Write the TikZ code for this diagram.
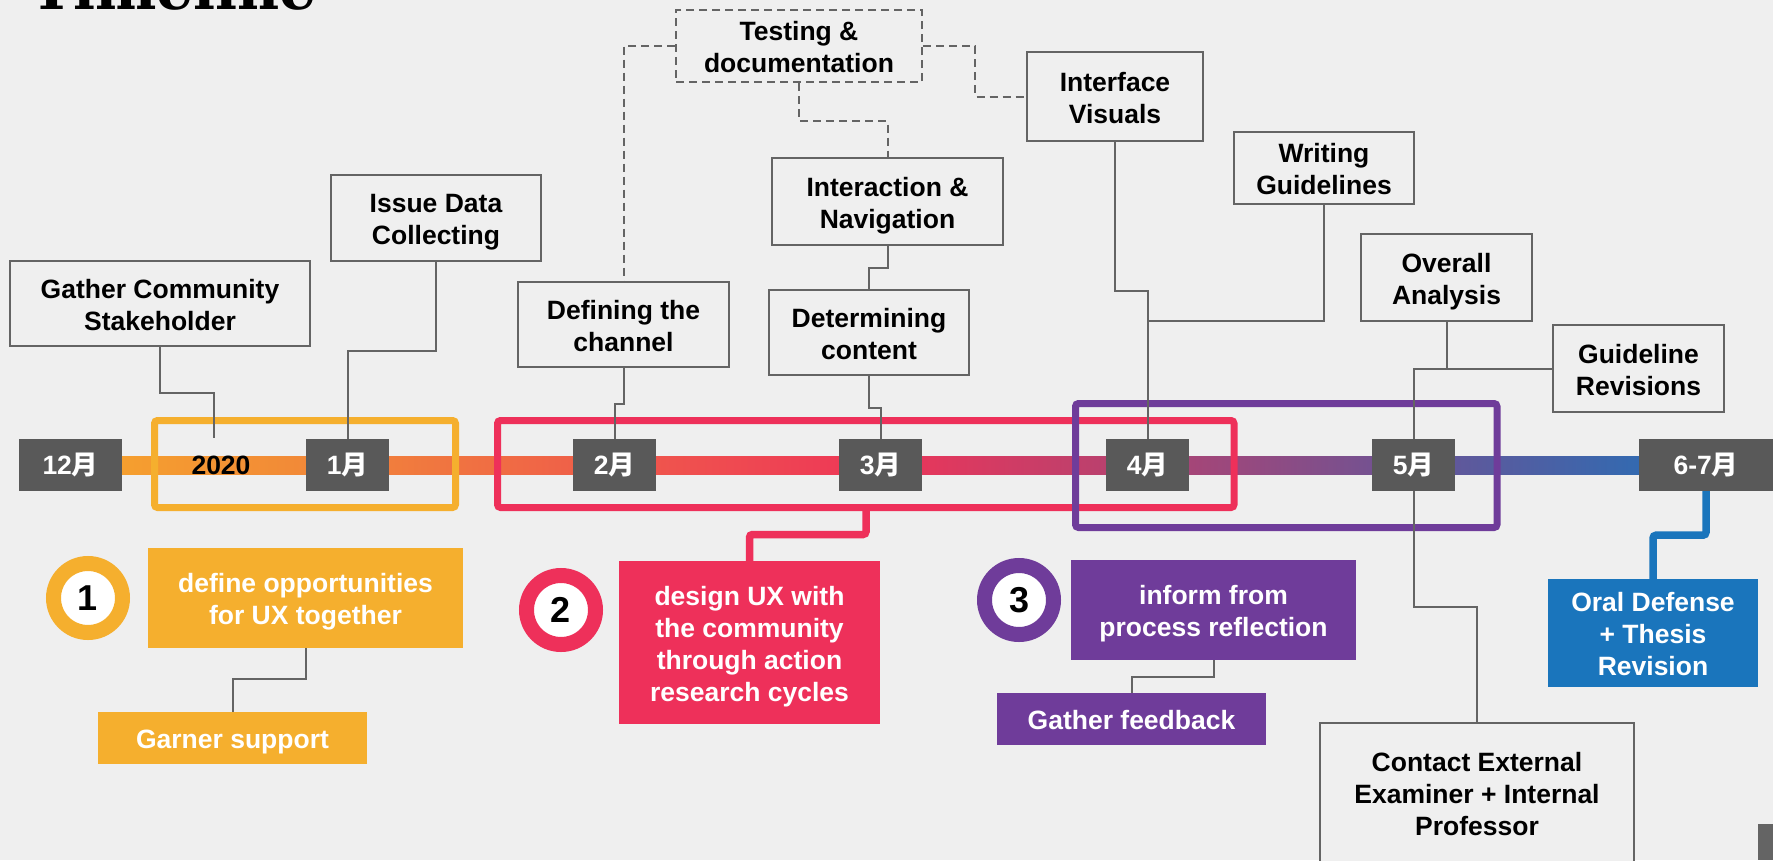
\documentclass[tikz,border=0pt]{standalone}
\usepackage{fontspec}
\setmainfont{Liberation Sans}
\newfontfamily\cjkfont{Noto Sans CJK SC}
\newfontfamily\titlefont{DejaVu Serif}
\definecolor{bgc}{HTML}{EFEFEF}
\definecolor{linec}{HTML}{646464}
\definecolor{monthc}{HTML}{595959}
\definecolor{yel}{HTML}{F5AF2E}
\definecolor{myred}{HTML}{EE305A}
\definecolor{pur}{HTML}{6F3C9A}
\definecolor{blu}{HTML}{1A75BC}
\definecolor{g0}{HTML}{F6A52C}
\definecolor{g1}{HTML}{F1843A}
\definecolor{g2}{HTML}{EF5A4B}
\definecolor{g3}{HTML}{EE3558}
\definecolor{g4}{HTML}{B04372}
\definecolor{g5}{HTML}{6A5496}
\definecolor{g6}{HTML}{2370B8}
\newcommand\labfont{\fontsize{26.5}{32}\selectfont\bfseries}
\newcommand\mo[1]{#1{\cjkfont\bfseries 月}}
\begin{document}
\begin{tikzpicture}[x=1pt,y=-1pt,
  box/.style={draw=linec, line width=2pt, fill=bgc, align=center, inner sep=0pt, font=\labfont, text=black},
  dashbox/.style={box, dash pattern=on 8pt off 5pt},
  cbox/.style={align=center, inner sep=0pt, font=\labfont, text=white},
  one/.style={text height=25pt, text depth=4pt},
  two/.style={text height=57pt, text depth=4pt},
  three/.style={text height=89pt, text depth=4pt},
  four/.style={text height=121pt, text depth=4pt},
  month/.style={fill=monthc, inner sep=0pt, minimum height=52, font=\labfont, text=white},
  ring/.style={circle, line width=15, fill=white, minimum size=69, inner sep=0pt, font=\fontsize{36}{40}\selectfont\bfseries},
  conn/.style={draw=linec, line width=2pt},
  dconn/.style={conn, dash pattern=on 8pt off 5pt},
  fat/.style={line width=7.5pt, rounded corners=3pt},
  frame/.style={line width=7pt, rounded corners=3pt}
]
\useasboundingbox (0,0) rectangle (1773,860);
\clip (0,0) rectangle (1773,860);
\fill[bgc] (0,0) rectangle (1773,860);

% title (mostly above the picture)
\node[anchor=base west, inner sep=0pt, font={\titlefont\bfseries\fontsize{58}{60}\selectfont}] (title) at (30,9.3) {Timeline};

% gradient bar
\shade[left color=g0, right color=g1] (70,456) rectangle (348,474);
\shade[left color=g1, right color=g2] (347,456) rectangle (615,474);
\shade[left color=g2, right color=g3] (614,456) rectangle (881,474);
\shade[left color=g3, right color=g4] (880,456) rectangle (1148,474);
\shade[left color=g4, right color=g5] (1147,456) rectangle (1414,474);
\shade[left color=g5, right color=g6] (1413,456) rectangle (1706,474);

% phase frames
\draw[yel, frame] (154.5,420.5) rectangle (455.5,507.5);
\draw[myred, frame] (497.5,420.5) rectangle (1234,507.5);
\draw[pur, frame] (1075.5,403.5) rectangle (1497,527.5);

% month boxes
\node[month, minimum width=103] (m12) at (70.5,465) {\mo{12}};
\node[text=black, font=\labfont, inner sep=0pt] (y2020) at (221,465) {2020};
\node[month, minimum width=83] (m1) at (347.5,465) {\mo{1}};
\node[month, minimum width=83] (m2) at (614.5,465) {\mo{2}};
\node[month, minimum width=83] (m3) at (880.5,465) {\mo{3}};
\node[month, minimum width=83] (m4) at (1147.5,465) {\mo{4}};
\node[month, minimum width=83] (m5) at (1413.5,465) {\mo{5}};
\node[month, minimum width=134] (m67) at (1706,465) {\mo{6-7}};

% outlined task boxes
\node[box, two, minimum width=300, minimum height=85] (gather) at (160,303.5) {Gather Community\\Stakeholder};
\node[box, two, minimum width=210, minimum height=86] (issue) at (436,218) {Issue Data\\Collecting};
\node[box, two, minimum width=211, minimum height=85] (defining) at (623.5,324.5) {Defining the\\channel};
\node[dashbox, two, minimum width=246, minimum height=72] (testing) at (799,46) {Testing \&\\documentation};
\node[box, two, minimum width=231, minimum height=87] (interaction) at (887.5,201.5) {Interaction \&\\Navigation};
\node[box, two, minimum width=200, minimum height=85] (determining) at (869,332.5) {Determining\\content};
\node[box, two, minimum width=176, minimum height=89] (interface) at (1115,96.5) {Interface\\Visuals};
\node[box, two, minimum width=180, minimum height=72] (writing) at (1324,168) {Writing\\Guidelines};
\node[box, two, minimum width=171, minimum height=87] (overall) at (1446.5,277.5) {Overall\\Analysis};
\node[box, two, minimum width=171, minimum height=87] (revisions) at (1638.5,368.5) {Guideline\\Revisions};
\node[box, three, minimum width=314, minimum height=140] (contact) at (1477,793) {Contact External\\Examiner + Internal\\Professor};

\coordinate (c2020) at (214,438);
\coordinate (j4) at (1147.5,321);

% gray connectors
\draw[conn] (gather.south) -- ++(0,46) -| (c2020);
\draw[conn] (issue.south) -- ++(0,89) -| (m1.north);
\draw[conn] (defining.south) -- ++(0,36) -| (m2.north);
\draw[conn] (determining.south) -- ++(0,32) -| (m3.north);
\draw[conn] (interaction.south) -- ++(0,22) -| (determining.north);
\draw[conn] (interface.south) -- ++(0,149) -| (m4.north);
\draw[conn] (writing.south) |- (j4);
\draw[conn] (overall.south) -- (overall.south |- revisions.west);
\draw[conn] (revisions.west) -| (m5.north);
\draw[conn] (m5.south) -- ++(0,116) -| (contact.north);
\draw[dconn] (testing.west) -| (defining.north);
\draw[dconn] (testing.east) -- ++(52,0) |- (interface.west);
\draw[dconn] (testing.south) -- ++(0,38) -| (interaction.north);

% phase boxes
\node[cbox, two, fill=yel, minimum width=315, minimum height=100] (defopp) at (305.5,598) {define opportunities\\for UX together};
\node[cbox, one, fill=yel, minimum width=269, minimum height=52] (garner) at (232.5,738) {Garner support};
\node[cbox, four, fill=myred, minimum width=261, minimum height=163] (design) at (749.5,642.5) {design UX with\\the community\\through action\\research cycles};
\node[cbox, two, fill=pur, minimum width=285, minimum height=100] (inform) at (1213.5,610) {inform from\\process reflection};
\node[cbox, one, fill=pur, minimum width=269, minimum height=52] (feedback) at (1131.5,719) {Gather feedback};
\node[cbox, three, fill=blu, minimum width=210, minimum height=108] (oral) at (1653,633) {Oral Defense\\+ Thesis\\Revision};

\draw[conn] (defopp.south) -- ++(0,31) -| (garner.north);
\draw[conn] (inform.south) -- ++(0,17) -| (feedback.north);

\coordinate (redfoot) at (866,507.5);
\draw[myred, fat] (redfoot) -- ++(0,27) -| (design.north);
\draw[blu, fat] (m67.south) -- ++(0,44) -| (oral.north);

% numbered rings
\node[ring, draw=yel] (n1) at (88,598) {1};
\node[ring, draw=myred] (n2) at (561,610) {2};
\node[ring, draw=pur] (n3) at (1019,600) {3};

% corner mark
\fill[linec] (1758,824) rectangle (1773,860);
\end{tikzpicture}
\end{document}
